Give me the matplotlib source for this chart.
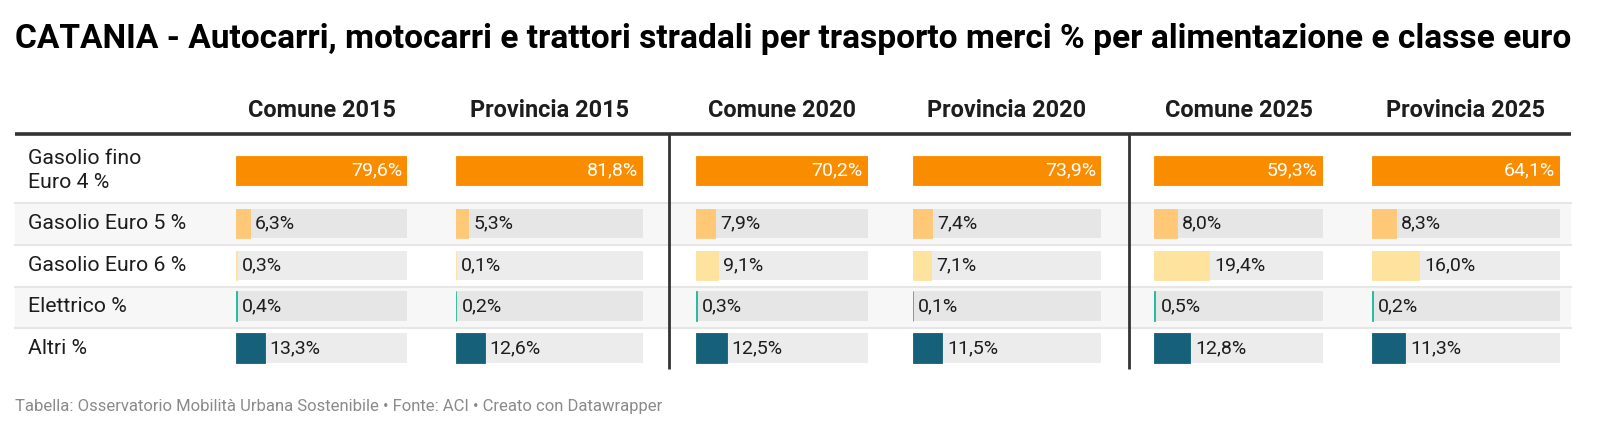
import matplotlib
matplotlib.use("Agg")
import matplotlib.pyplot as plt

plt.rcParams['font.family'] = ['Roboto', 'DejaVu Sans']

# ---- data ----
title = "CATANIA - Autocarri, motocarri e trattori stradali per trasporto merci % per alimentazione e classe euro"
footer = "Tabella: Osservatorio Mobilità Urbana Sostenibile • Fonte: ACI • Creato con Datawrapper"
row_labels = ["Gasolio fino\nEuro 4 %", "Gasolio Euro 5 %", "Gasolio Euro 6 %", "Elettrico %", "Altri %"]
columns = ["Comune 2015", "Provincia 2015", "Comune 2020", "Provincia 2020", "Comune 2025", "Provincia 2025"]
comune_2015 = [79.6, 6.3, 0.3, 0.4, 13.3]
provincia_2015 = [81.8, 5.3, 0.1, 0.2, 12.6]
comune_2020 = [70.2, 7.9, 9.1, 0.3, 12.5]
provincia_2020 = [73.9, 7.4, 7.1, 0.1, 11.5]
comune_2025 = [59.3, 8.0, 19.4, 0.5, 12.8]
provincia_2025 = [64.1, 8.3, 16.0, 0.2, 11.3]
values = [comune_2015, provincia_2015, comune_2020, provincia_2020, comune_2025, provincia_2025]

# ---- style / layout ----
W, H = 1600, 434
bar_colors = ["#fa8c00", "#fec877", "#fee39f", "#19b99b", "#16607a"]
col_x = [(236, 407), (456, 643), (696, 868), (913, 1101), (1154, 1323), (1372, 1560)]
row_centers = [170.5, 223.5, 265.3, 306.1, 348]
row_bounds = [135.5, 203, 245, 286.5, 327.5, 368.5]
bar_h = 29.4
shaded = [False, True, False, True, False]
line_x0, line_x1 = 15, 1571

fig = plt.figure(figsize=(W / 100, H / 100), dpi=100)
bg = fig.add_axes([0, 0, 1, 1])
bg.set_xlim(0, W)
bg.set_ylim(H, 0)
bg.axis("off")

# title
bg.text(15, 39, title, fontsize=24.1, fontweight="bold", color="#000000",
        va="center", ha="left")

# row backgrounds and separators
for i in range(5):
    if shaded[i]:
        bg.fill_between([line_x0, line_x1], row_bounds[i], row_bounds[i + 1], color="#f7f7f7", lw=0, zorder=0)
for yb in row_bounds[1:-1]:
    bg.plot([line_x0, line_x1], [yb, yb], color="#e6e6e6", lw=1.5, zorder=1)

# header line
bg.plot([line_x0, line_x1], [133.7, 133.7], color="#333333", lw=2.6, solid_capstyle="butt", zorder=3)
# vertical dividers
for xv in (668.5, 1128.5):
    bg.plot([xv, xv], [133.7, row_bounds[-1]], color="#333333", lw=2.0, solid_capstyle="butt", zorder=3)

# row labels
for i, lab in enumerate(row_labels):
    bg.text(28, row_centers[i], lab, fontsize=15.3, color="#1d1d1d", va="center", ha="left",
            linespacing=1.4)

# headers
for j, name in enumerate(columns):
    x0, x1 = col_x[j]
    bg.text((x0 + x1) / 2, 110.5, name, fontsize=16.9, fontweight="bold", color="#1d1d1d",
            va="center", ha="center")

# footer
bg.text(15, 407, footer, fontsize=12, color="#8a8a8a", va="center", ha="left")

# bar columns
top, bottom = row_bounds[0], row_bounds[-1]
for j, vals in enumerate(values):
    x0, x1 = col_x[j]
    ax = fig.add_axes([x0 / W, 1 - bottom / H, (x1 - x0) / W, (bottom - top) / H])
    vmax = max(vals)
    ax.set_xlim(0, vmax)
    ax.set_ylim(bottom, top)
    ax.axis("off")
    ax.patch.set_alpha(0)
    for i, v in enumerate(vals):
        track = "#e6e6e6" if shaded[i] else "#ececec"
        if i > 0:
            ax.barh(row_centers[i], vmax, height=bar_h, left=0, color=track, lw=0, zorder=1)
        ax.barh(row_centers[i], v, height=bar_h, left=0, color=bar_colors[i],
                edgecolor=bar_colors[i], lw=0.6, zorder=2)
        lab = f"{v:.1f}%".replace(".", ",")
        px = vmax / (x1 - x0)
        if i == 0:
            ax.text(v - 5 * px, row_centers[i], lab, color="white", fontsize=14,
                    va="center", ha="right", zorder=3)
        else:
            ax.text(v + 5 * px, row_centers[i], lab, color="#1d1d1d", fontsize=14,
                    va="center", ha="left", zorder=3)

fig.savefig("out.png", dpi=100)
